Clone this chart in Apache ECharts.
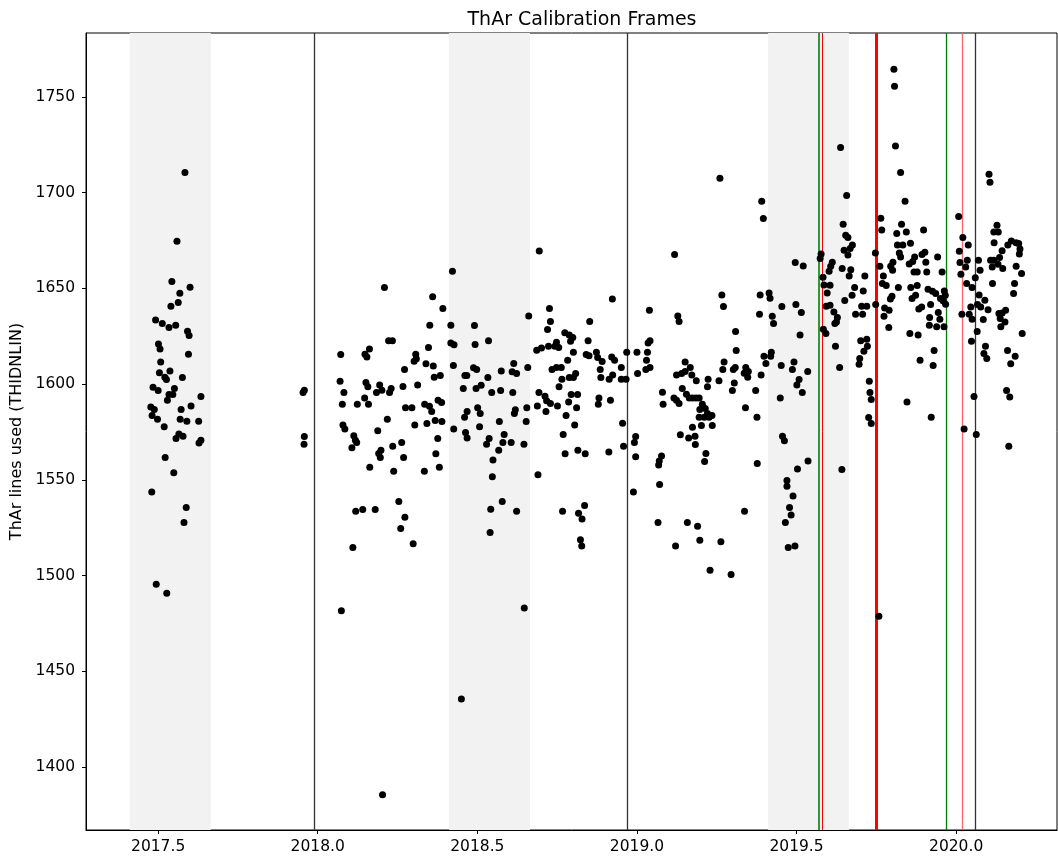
<!DOCTYPE html>
<html>
<head>
<meta charset="utf-8">
<title>ThAr Calibration Frames</title>
<script src="https://cdn.jsdelivr.net/npm/echarts@6/dist/echarts.min.js"></script>
<style>
  html, body { margin: 0; padding: 0; background: #fff; }
  #chart { width: 1058px; height: 861px; }
</style>
</head>
<body>
<div id="chart"></div>
<script>
// each frame: [decimal year, ThAr lines used]
var obs2017 = [
  [2017.584,1710.5],[2017.559,1674.6],[2017.543,1653.6],[2017.600,1650.6],[2017.568,1647.5],[2017.563,1642.6],
  [2017.540,1640.7],[2017.492,1633.5],[2017.513,1631.7],[2017.534,1629.6],[2017.555,1630.8],[2017.592,1627.6],
  [2017.597,1625.4],[2017.501,1620.9],[2017.506,1618.4],[2017.595,1615.6],[2017.508,1611.6],[2017.504,1605.9],
  [2017.537,1606.8],[2017.521,1603.6],[2017.526,1602.4],[2017.576,1603.5],[2017.484,1598.4],[2017.500,1596.7],
  [2017.551,1597.7],[2017.534,1594.6],[2017.546,1594.6],[2017.529,1591.6],[2017.634,1593.5],[2017.477,1588.0],
  [2017.488,1586.8],[2017.572,1586.8],[2017.603,1588.6],[2017.481,1583.6],[2017.498,1581.7],[2017.569,1581.7],
  [2017.590,1580.6],[2017.627,1580.6],[2017.519,1577.7],[2017.565,1573.9],[2017.578,1572.8],[2017.556,1571.6],
  [2017.634,1570.7],[2017.628,1569.3],[2017.522,1561.7],[2017.549,1553.7],[2017.480,1543.6],[2017.588,1535.6],
  [2017.581,1527.7],[2017.494,1495.5],[2017.527,1490.7]
];
var obs2018a = [
  [2018.422,1659.0],[2018.209,1650.5],[2018.360,1645.6],[2018.392,1639.5],[2018.351,1630.8],[2018.417,1630.8],
  [2018.222,1622.6],[2018.234,1622.6],[2018.347,1619.1],[2018.417,1621.5],[2018.427,1620.5],[2018.162,1618.4],
  [2018.148,1615.6],[2018.154,1614.2],[2018.072,1615.5],[2018.307,1615.6],[2018.302,1612.0],[2018.309,1613.2],
  [2018.339,1610.6],[2018.362,1609.5],[2018.425,1609.7],[2018.272,1607.6],[2018.365,1603.6],[2018.384,1604.5],
  [2018.461,1604.5],[2018.467,1604.5],[2018.070,1601.5],[2018.151,1600.9],[2018.157,1598.6],[2018.194,1599.6],
  [2018.201,1596.8],[2018.230,1597.7],[2018.225,1595.6],[2018.184,1595.6],[2018.267,1598.8],[2018.313,1599.6],
  [2018.456,1597.7],[2017.958,1596.8],[2017.954,1595.6],[2018.082,1595.6],[2018.147,1592.7],[2018.077,1589.5],
  [2018.124,1589.5],[2018.159,1589.5],[2018.275,1587.6],[2018.295,1587.6],[2018.335,1589.5],[2018.350,1588.5],
  [2018.357,1585.7],[2018.377,1591.6],[2018.388,1590.4],[2018.468,1585.7],[2018.460,1582.7],[2018.218,1581.7],
  [2018.368,1581.0],[2018.389,1580.5],[2018.342,1579.4],[2018.304,1578.6],[2018.079,1578.6],[2018.085,1576.5],
  [2018.426,1576.6],[2018.188,1575.6],[2018.463,1574.7],[2018.468,1571.9],[2018.113,1573.0],[2018.118,1570.7],
  [2018.122,1569.5],[2018.107,1566.7],[2018.376,1571.6],[2018.263,1569.5],[2018.235,1567.6],[2018.198,1565.5],
  [2018.191,1563.8],[2018.196,1561.7],[2018.269,1561.7],[2018.370,1563.6],[2017.958,1572.7],[2017.957,1568.6],
  [2018.163,1556.6],[2018.238,1554.5],[2018.334,1554.5],[2018.381,1556.6],[2018.254,1538.7],[2018.119,1533.6],
  [2018.141,1534.5],[2018.180,1534.5],[2018.273,1530.5],[2018.260,1524.6],[2018.299,1516.6],[2018.110,1514.7],
  [2018.074,1481.6],[2018.203,1385.5],[2018.450,1435.5]
];
var obs2018b = [
  [2018.923,1644.5],[2018.661,1635.6],[2018.726,1639.5],[2018.729,1632.7],[2018.720,1628.5],[2018.852,1632.7],
  [2018.491,1630.6],[2018.493,1620.7],[2018.535,1622.6],[2018.774,1626.8],[2018.788,1625.6],[2018.799,1624.4],
  [2018.792,1622.4],[2018.847,1622.6],[2018.748,1621.9],[2018.755,1619.1],[2018.743,1619.8],[2018.723,1619.8],
  [2018.701,1618.8],[2018.686,1617.7],[2018.801,1616.7],[2018.841,1615.5],[2018.850,1614.8],[2018.873,1616.7],
  [2018.877,1613.9],[2018.891,1611.8],[2018.921,1614.2],[2018.930,1612.5],[2018.968,1616.7],[2019.000,1616.7],
  [2018.783,1612.5],[2018.951,1608.7],[2018.885,1607.6],[2018.887,1603.5],[2018.924,1604.7],[2018.913,1602.6],
  [2018.951,1602.6],[2018.966,1602.6],[2019.002,1605.6],[2018.734,1607.6],[2018.748,1608.7],[2018.763,1608.7],
  [2018.808,1605.6],[2018.801,1603.5],[2018.788,1603.5],[2018.765,1602.6],[2018.756,1598.6],[2018.658,1608.7],
  [2018.614,1610.8],[2018.609,1606.4],[2018.623,1605.6],[2018.575,1606.8],[2018.488,1608.5],[2018.498,1607.6],
  [2018.533,1603.5],[2018.512,1599.4],[2018.496,1597.7],[2018.545,1595.6],[2018.573,1596.7],[2018.611,1595.6],
  [2018.693,1595.6],[2018.712,1593.7],[2018.717,1591.3],[2018.729,1589.9],[2018.794,1594.6],[2018.814,1594.6],
  [2018.688,1588.6],[2018.715,1585.7],[2018.751,1588.6],[2018.786,1590.6],[2018.811,1587.6],[2018.881,1592.8],
  [2018.879,1589.5],[2018.917,1591.6],[2018.655,1587.6],[2018.619,1586.6],[2018.616,1584.7],[2018.653,1580.5],
  [2018.569,1580.5],[2018.501,1587.6],[2018.509,1584.7],[2018.507,1577.7],[2018.778,1583.6],[2018.805,1578.6],
  [2018.955,1579.6],[2018.537,1571.6],[2018.529,1568.6],[2018.584,1573.7],[2018.580,1569.5],[2018.606,1569.5],
  [2018.646,1568.6],[2018.567,1565.5],[2018.769,1573.7],[2018.775,1563.6],[2018.815,1565.5],[2018.838,1563.6],
  [2018.912,1564.6],[2018.958,1567.6],[2018.996,1572.7],[2018.992,1569.5],[2018.996,1562.0],[2018.549,1560.4],
  [2018.547,1551.6],[2018.690,1552.6],[2018.578,1538.7],[2018.542,1534.7],[2018.623,1533.6],[2018.767,1533.6],
  [2018.836,1536.6],[2018.817,1532.5],[2018.828,1529.6],[2018.989,1543.6],[2018.540,1522.5],[2018.823,1518.7],
  [2018.827,1515.5],[2018.647,1483.0],[2018.694,1669.5]
];
var obs2019a = [
  [2019.260,1707.5],[2019.391,1695.5],[2019.396,1686.5],[2019.118,1667.7],[2019.496,1663.5],[2019.266,1646.6],
  [2019.271,1640.5],[2019.386,1646.6],[2019.414,1647.6],[2019.417,1644.9],[2019.384,1636.5],[2019.424,1635.5],
  [2019.428,1631.7],[2019.454,1640.5],[2019.498,1641.6],[2019.039,1638.6],[2019.128,1635.6],[2019.132,1632.7],
  [2019.309,1627.5],[2019.311,1617.6],[2019.041,1622.6],[2019.035,1621.5],[2019.033,1616.7],[2019.030,1612.5],
  [2019.041,1608.7],[2019.028,1607.6],[2019.151,1611.6],[2019.167,1608.7],[2019.172,1604.7],[2019.124,1604.7],
  [2019.140,1605.6],[2019.151,1606.6],[2019.186,1601.7],[2019.223,1602.6],[2019.221,1598.6],[2019.257,1601.7],
  [2019.273,1611.6],[2019.269,1607.6],[2019.302,1607.6],[2019.308,1608.7],[2019.305,1600.6],[2019.299,1596.7],
  [2019.341,1608.7],[2019.336,1605.7],[2019.347,1603.6],[2019.349,1606.6],[2019.372,1596.7],[2019.389,1604.7],
  [2019.398,1614.6],[2019.404,1610.8],[2019.421,1616.7],[2019.419,1614.6],[2019.452,1609.7],[2019.492,1611.6],
  [2019.487,1607.6],[2019.501,1599.6],[2019.449,1592.7],[2019.340,1587.6],[2019.376,1582.7],[2019.080,1595.8],
  [2019.082,1589.5],[2019.116,1592.7],[2019.124,1591.6],[2019.132,1589.9],[2019.142,1597.7],[2019.155,1594.7],
  [2019.164,1592.7],[2019.174,1592.7],[2019.185,1592.7],[2019.195,1592.7],[2019.205,1589.5],[2019.214,1587.3],
  [2019.197,1586.8],[2019.221,1584.7],[2019.195,1582.7],[2019.211,1582.7],[2019.226,1582.7],[2019.235,1583.6],
  [2019.202,1578.4],[2019.236,1578.4],[2019.174,1577.5],[2019.136,1573.5],[2019.162,1571.8],[2019.182,1572.8],
  [2019.183,1568.5],[2019.216,1563.8],[2019.212,1559.6],[2019.077,1562.5],[2019.070,1559.9],[2019.068,1557.7],
  [2019.071,1547.6],[2019.377,1558.6],[2019.456,1572.8],[2019.462,1570.4],[2019.503,1555.6],[2019.470,1549.7],
  [2019.470,1546.7],[2019.489,1541.6],[2019.478,1535.6],[2019.483,1531.6],[2019.465,1527.7],[2019.474,1514.7],
  [2019.495,1515.5],[2019.337,1533.6],[2019.066,1527.7],[2019.158,1527.7],[2019.190,1525.7],[2019.197,1518.5],
  [2019.263,1517.6],[2019.121,1515.5],[2019.229,1502.8],[2019.295,1500.6]
];
var obs2019b = [
  [2019.805,1764.5],[2019.807,1755.6],[2019.638,1723.6],[2019.810,1724.4],[2019.826,1710.5],[2019.657,1698.5],
  [2019.840,1695.5],[2019.764,1686.7],[2019.767,1680.5],[2019.646,1683.5],[2019.829,1683.5],[2019.814,1678.7],
  [2019.844,1679.5],[2019.898,1680.5],[2019.654,1677.8],[2019.661,1676.6],[2019.675,1672.6],[2019.668,1670.8],
  [2019.649,1669.9],[2019.661,1667.5],[2019.816,1672.6],[2019.833,1672.6],[2019.857,1673.6],[2019.822,1668.5],
  [2019.826,1666.4],[2019.747,1668.5],[2019.577,1667.9],[2019.574,1665.6],[2019.521,1661.7],[2019.612,1663.7],
  [2019.607,1661.6],[2019.602,1659.0],[2019.643,1660.4],[2019.670,1659.7],[2019.665,1656.5],[2019.714,1656.5],
  [2019.583,1655.8],[2019.586,1651.8],[2019.605,1651.7],[2019.596,1647.6],[2019.761,1661.6],[2019.772,1656.5],
  [2019.795,1661.6],[2019.802,1663.7],[2019.801,1659.5],[2019.853,1662.8],[2019.870,1666.4],[2019.893,1667.7],
  [2019.902,1668.9],[2019.864,1664.0],[2019.905,1663.7],[2019.908,1658.6],[2019.878,1658.6],[2019.868,1658.6],
  [2019.942,1666.4],[2019.956,1658.6],[2019.769,1652.6],[2019.781,1651.5],[2019.819,1650.5],[2019.682,1650.5],
  [2019.709,1648.7],[2019.674,1646.4],[2019.858,1650.5],[2019.878,1651.5],[2019.912,1649.6],[2019.926,1648.5],
  [2019.936,1647.3],[2019.963,1648.7],[2019.966,1646.4],[2019.951,1644.7],[2019.959,1643.5],[2019.967,1641.7],
  [2019.873,1646.4],[2019.862,1644.7],[2019.799,1645.9],[2019.794,1644.4],[2019.651,1643.7],[2019.593,1640.7],
  [2019.605,1641.2],[2019.617,1637.7],[2019.628,1634.8],[2019.620,1631.7],[2019.625,1632.5],[2019.685,1636.5],
  [2019.707,1636.5],[2019.704,1640.7],[2019.720,1640.7],[2019.748,1641.6],[2019.776,1639.8],[2019.790,1638.6],
  [2019.774,1635.5],[2019.789,1629.6],[2019.892,1640.3],[2019.883,1639.3],[2019.920,1641.6],[2019.944,1637.4],
  [2019.917,1634.8],[2019.916,1630.8],[2019.949,1633.9],[2019.939,1629.9],[2019.962,1629.9],[2019.855,1626.4],
  [2019.881,1625.6],[2019.584,1628.7],[2019.592,1626.4],[2019.622,1619.8],[2019.701,1622.6],[2019.720,1623.5],
  [2019.722,1619.8],[2019.711,1617.2],[2019.698,1613.4],[2019.696,1610.4],[2019.635,1608.7],[2019.887,1612.5],
  [2019.931,1617.6],[2019.928,1609.7],[2019.728,1601.5],[2019.730,1595.6],[2019.734,1592.0],[2019.846,1590.6],
  [2019.922,1582.7],[2019.726,1582.6],[2019.734,1579.4],[2019.511,1625.6],[2019.535,1606.6],[2019.508,1602.4],
  [2019.518,1595.6],[2019.515,1637.4],[2019.536,1559.8],[2019.642,1555.4],[2019.758,1478.8]
];
var obs2020 = [
  [2020.008,1687.5],[2020.021,1676.6],[2020.038,1672.6],[2020.010,1669.4],[2020.012,1663.5],[2020.015,1657.4],
  [2020.035,1664.7],[2020.030,1661.2],[2020.018,1636.5],[2020.033,1652.6],[2020.050,1650.5],[2020.060,1655.5],
  [2020.070,1664.7],[2020.075,1659.5],[2020.046,1640.3],[2020.041,1636.5],[2020.050,1633.9],[2020.072,1646.6],
  [2020.090,1643.8],[2020.077,1640.3],[2020.067,1641.6],[2020.100,1638.8],[2020.085,1633.8],[2020.066,1627.5],
  [2020.048,1622.4],[2020.092,1619.8],[2020.087,1616.0],[2020.096,1613.4],[2020.056,1593.5],[2020.025,1576.6],
  [2020.063,1573.7],[2020.103,1709.6],[2020.106,1705.5],[2020.128,1683.0],[2020.118,1679.5],[2020.132,1679.5],
  [2020.119,1673.8],[2020.108,1664.7],[2020.113,1661.2],[2020.118,1664.7],[2020.131,1662.6],[2020.136,1666.1],
  [2020.144,1669.6],[2020.146,1660.4],[2020.162,1672.6],[2020.173,1674.8],[2020.188,1673.8],[2020.196,1673.4],
  [2020.200,1670.6],[2020.198,1667.9],[2020.188,1661.6],[2020.205,1657.8],[2020.114,1652.6],[2020.183,1652.6],
  [2020.180,1647.3],[2020.155,1638.6],[2020.144,1637.2],[2020.134,1636.9],[2020.138,1634.3],[2020.153,1632.5],
  [2020.140,1629.9],[2020.207,1626.4],[2020.161,1617.6],[2020.185,1614.6],[2020.171,1610.6],[2020.158,1596.7],
  [2020.168,1593.3],[2020.165,1567.6]
];

var xTicks = [2017.5, 2018.0, 2018.5, 2019.0, 2019.5, 2020.0];
var yTicks = [1400, 1450, 1500, 1550, 1600, 1650, 1700, 1750];

// shaded summer periods
var bandStart = [2017.411, 2018.411, 2019.411];
var bandEnd = [2017.665, 2018.665, 2019.664];

// vertical markers
var blackLines = [2017.986, 2018.969, 2020.061];
var greenLines = [2019.573, 2019.972];
var redLines = [2019.747, 2020.021];

var font = 'DejaVu Sans';
var myChart = echarts.init(document.getElementById('chart'));

var allFrames = [].concat(obs2017, obs2018a, obs2018b, obs2019a, obs2019b, obs2020);

var areas = [];
for (var i = 0; i < bandStart.length; i++) {
    areas.push([{ xAxis: bandStart[i] }, { xAxis: bandEnd[i] }]);
}

var vlines = [];
blackLines.forEach(function (x) {
    vlines.push({ xAxis: x, lineStyle: { color: '#333', width: 1.3, type: 'solid' } });
});
vlines.push({ xAxis: redLines[0], lineStyle: { color: '#ff0000', width: 3, type: 'solid' } });
vlines.push({ xAxis: redLines[1], lineStyle: { color: '#ff6666', width: 1.3, type: 'solid' } });
// red edge just right of the first green line
vlines.push({ xAxis: greenLines[0] + 0.003, lineStyle: { color: '#ff0000', width: 1, type: 'solid' } });
vlines.push({ xAxis: greenLines[0], lineStyle: { color: '#008000', width: 1.6, type: 'solid' } });
vlines.push({ xAxis: greenLines[1], lineStyle: { color: '#008000', width: 1.3, type: 'solid' } });

var option = {
    animation: false,
    backgroundColor: '#fff',
    title: {
        text: 'ThAr Calibration Frames',
        left: 577,
        top: 6,
        textAlign: 'center',
        textStyle: { fontFamily: font, fontSize: 19, fontWeight: 'normal', color: '#000' }
    },
    grid: {
        left: 86, right: 1, top: 33, bottom: 31,
        outerBoundsMode: 'none',
        containLabel: false,
        show: true, borderColor: '#000', borderWidth: 1, backgroundColor: 'transparent'
    },
    xAxis: {
        type: 'value',
        min: 2017.274,
        max: 2020.316,
        splitLine: { show: false },
        axisLine: { show: true, onZero: false, lineStyle: { color: '#000', width: 1 } },
        axisTick: { show: true, length: 4, customValues: xTicks, lineStyle: { color: '#000' } },
        axisLabel: {
            customValues: xTicks, margin: 9, color: '#000', fontFamily: font, fontSize: 15.5,
            formatter: function (v) { return v.toFixed(1); }
        }
    },
    yAxis: {
        type: 'value',
        min: 1367.1,
        max: 1783.4,
        name: 'ThAr lines used (THIDNLIN)',
        nameLocation: 'middle',
        nameRotate: 90,
        nameGap: 46,
        nameTextStyle: { fontFamily: font, fontSize: 16, color: '#000' },
        splitLine: { show: false },
        axisLine: { show: true, onZero: false, lineStyle: { color: '#000', width: 1 } },
        axisTick: { show: true, length: 4, customValues: yTicks, lineStyle: { color: '#000' } },
        axisLabel: {
            customValues: yTicks, margin: 11, color: '#000', fontFamily: font, fontSize: 15.5,
            formatter: function (v) { return String(v); }
        }
    },
    series: [{
        type: 'line',
        data: [],
        z: 1,
        silent: true,
        markArea: {
            silent: true,
            itemStyle: { color: '#f2f2f2' },
            data: areas
        },
        markLine: {
            silent: true,
            symbol: 'none',
            label: { show: false },
            animation: false,
            data: vlines
        }
    }, {
        type: 'scatter',
        z: 5,
        data: allFrames,
        symbol: 'circle',
        symbolSize: 7,
        itemStyle: { color: '#000', opacity: 1 }
    }]
};

myChart.setOption(option);
</script>
</body>
</html>
